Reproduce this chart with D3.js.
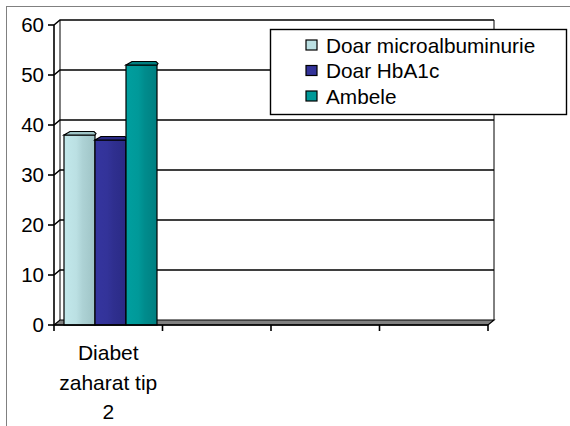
<!DOCTYPE html>
<html>
<head>
<meta charset="utf-8">
<script src="https://cdn.jsdelivr.net/npm/d3@7"></script>
<style>
  html, body { margin: 0; padding: 0; background: #fff; }
  svg { display: block; font-family: "Liberation Sans", Arial, sans-serif; }
</style>
</head>
<body>
<svg id="chart" width="570" height="426"></svg>
<script>
// Category slots along the x axis (only the first one is filled)
const categories = ["Diabet zaharat tip 2", "", "", ""];
const categoryLines = [["Diabet", "zaharat tip", "2"], [], [], []];

// Series names and values per category
const seriesNames = ["Doar microalbuminurie", "Doar HbA1c", "Ambele"];
const microalbuminurie = [38, null, null, null];
const hba1c = [37, null, null, null];
const ambele = [52, null, null, null];

// Value axis ticks
const yTicks = [0, 10, 20, 30, 40, 50, 60];

const seriesValues = [microalbuminurie, hba1c, ambele];
const colors = ["#BBE0E3", "#333399", "#009999"];
const darkColors = ["#9FC4C6", "#2A2A85", "#007F80"];

const svg = d3.select("#chart");

// Outer chart frame
svg.append("rect")
  .attr("x", 6.5).attr("y", 6.5)
  .attr("width", 600).attr("height", 500)
  .attr("fill", "#fff").attr("stroke", "#808080").attr("stroke-width", 1);

// 3D depth offset of the back wall relative to the front axes
const dx = 6, dy = -5;

const y = d3.scaleLinear().domain([0, 60]).range([325, 25]);
const x = d3.scaleBand().domain(d3.range(categories.length)).range([54, 488]);
const xInner = d3.scaleBand().domain(seriesNames).range([10, 103]);

const g = svg.append("g");

// Back wall and side wall outlines
const yTop = y(60), yBot = y(0), xL = 54, xR = 488;
g.append("path")
  .attr("d", `M${xL + dx},${yTop + dy}V${yBot + dy}`)
  .attr("stroke", "#000").attr("fill", "none");
g.append("path")
  .attr("d", `M${xR + dx},${yTop + dy}V${yBot + dy}`)
  .attr("stroke", "#000").attr("fill", "none");

// Gridlines: slanted across the side wall, then along the back wall
g.selectAll(".grid").data(yTicks.filter(t => t > 0)).join("path")
  .attr("class", "grid")
  .attr("d", t => `M${xL},${y(t)}L${xL + dx},${y(t) + dy}H${xR + dx}`)
  .attr("stroke", "#000").attr("stroke-width", 1.6).attr("fill", "none");

// Floor plate
g.append("path")
  .attr("d", `M${xL},${yBot}L${xL + dx},${yBot + dy}H${xR + dx}L${xR},${yBot}Z`)
  .attr("fill", "#808080").attr("stroke", "#000").attr("stroke-width", 1.2);

// Front value axis
g.append("line")
  .attr("x1", xL).attr("x2", xL).attr("y1", yTop).attr("y2", yBot)
  .attr("stroke", "#000").attr("stroke-width", 1.6);
g.selectAll(".ytick").data(yTicks).join("line")
  .attr("class", "ytick")
  .attr("x1", xL - 6).attr("x2", xL)
  .attr("y1", d => y(d)).attr("y2", d => y(d))
  .attr("stroke", "#000").attr("stroke-width", 1.6);
g.selectAll(".ylabel").data(yTicks).join("text")
  .attr("class", "ylabel")
  .attr("x", 44).attr("y", d => y(d))
  .attr("dy", "0.36em")
  .attr("text-anchor", "end")
  .attr("font-size", 20.5)
  .attr("fill", "#000")
  .text(d => d);

// Gradients for the bar fronts
const defs = svg.append("defs");
seriesNames.forEach((s, i) => {
  const grad = defs.append("linearGradient")
    .attr("id", "grad" + i).attr("x1", "0").attr("x2", "1").attr("y1", "0").attr("y2", "0");
  const c = d3.color(colors[i]);
  grad.append("stop").attr("offset", "0%").attr("stop-color", c.brighter(0.1));
  grad.append("stop").attr("offset", "40%").attr("stop-color", colors[i]);
  grad.append("stop").attr("offset", "60%").attr("stop-color", d3.interpolateRgb(colors[i], darkColors[i])(0.5));
  grad.append("stop").attr("offset", "100%").attr("stop-color", darkColors[i]);
});

// Bars
const barData = [];
categories.forEach((cat, ci) => {
  seriesNames.forEach((s, si) => {
    const v = seriesValues[si][ci];
    if (v != null) barData.push({ ci, si, s, v });
  });
});

const bars = g.selectAll(".bar").data(barData).join("g").attr("class", "bar");
bars.append("rect")
  .attr("x", d => x(d.ci) + xInner(d.s))
  .attr("y", d => y(d.v))
  .attr("width", xInner.bandwidth())
  .attr("height", d => yBot - y(d.v))
  .attr("fill", d => `url(#grad${d.si})`)
  .attr("stroke", "#000").attr("stroke-width", 1.2);
bars.append("path")
  .attr("d", d => {
    const x0 = x(d.ci) + xInner(d.s), x1 = x0 + xInner.bandwidth(), yt = y(d.v);
    return `M${x0},${yt}L${x0 + 6},${yt - 3.5}H${x1 - 1}L${x1 + 1},${yt - 1.5}L${x1},${yt}Z`;
  })
  .attr("fill", d => darkColors[d.si])
  .attr("stroke", "#000").attr("stroke-width", 1.2);

// Category axis
g.append("line")
  .attr("x1", xL).attr("x2", xR).attr("y1", yBot).attr("y2", yBot)
  .attr("stroke", "#000").attr("stroke-width", 1.6);
const bounds = x.domain().map(i => x(i)).concat([xR]);
g.selectAll(".xtick").data(bounds).join("line")
  .attr("class", "xtick")
  .attr("x1", d => d).attr("x2", d => d)
  .attr("y1", yBot).attr("y2", yBot + 6)
  .attr("stroke", "#000").attr("stroke-width", 1.6);
g.selectAll(".xlabel").data(categoryLines).join("text")
  .attr("class", "xlabel")
  .attr("x", (d, i) => x(i) + x.bandwidth() / 2)
  .attr("y", 360)
  .attr("text-anchor", "middle")
  .attr("font-size", 21)
  .attr("fill", "#000")
  .selectAll("tspan").data(d => d).join("tspan")
  .attr("x", function () { return d3.select(this.parentNode).attr("x"); })
  .attr("dy", (d, i) => i === 0 ? 0 : 29.5)
  .text(d => d);

// Legend
const legend = svg.append("g");
legend.append("rect")
  .attr("x", 270.5).attr("y", 29.5).attr("width", 296).attr("height", 85)
  .attr("fill", "#fff").attr("stroke", "#000").attr("stroke-width", 1.4);
const items = legend.selectAll(".item").data(seriesNames).join("g")
  .attr("class", "item")
  .attr("transform", (d, i) => `translate(0,${45 + i * 25.5})`);
items.append("rect")
  .attr("x", 306).attr("y", -5).attr("width", 11).attr("height", 10)
  .attr("fill", (d, i) => colors[i]).attr("stroke", "#000").attr("stroke-width", 1.2);
items.append("text")
  .attr("x", 326).attr("y", 0).attr("dy", "0.36em")
  .attr("font-size", 20.8)
  .attr("fill", "#000")
  .text(d => d);
</script>
</body>
</html>
